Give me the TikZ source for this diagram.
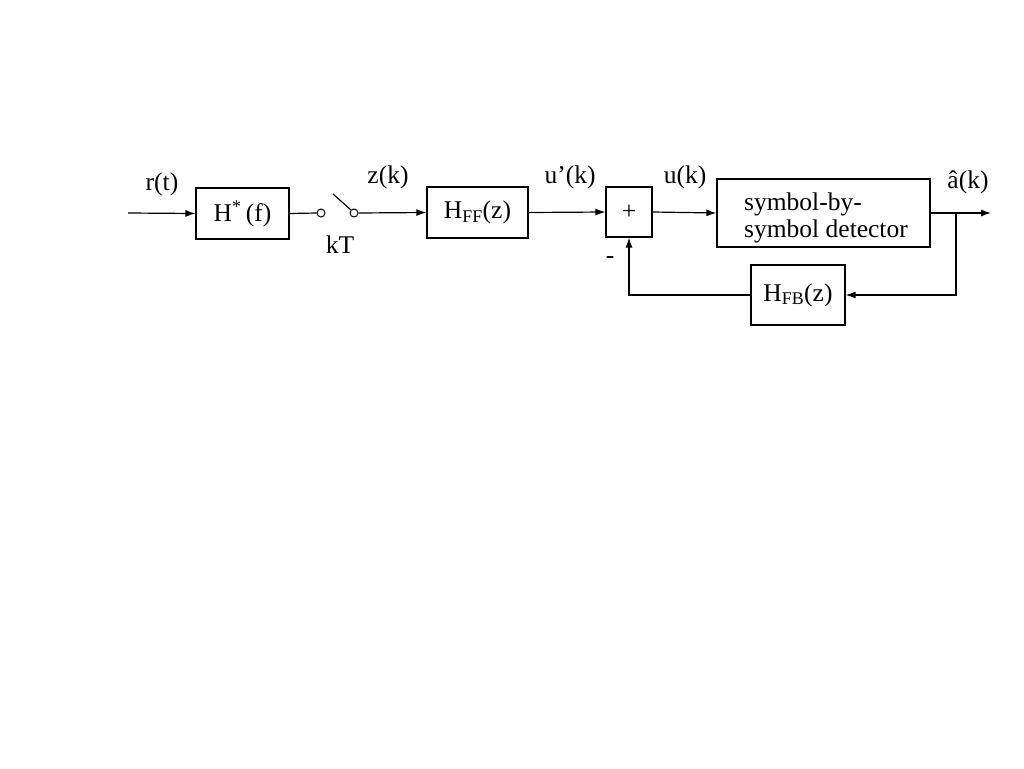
\documentclass[tikz,border=0pt]{standalone}
\usepackage{fontspec}
\setmainfont{Liberation Serif}
\usetikzlibrary{arrows.meta}
\begin{document}
\begin{tikzpicture}[x=1pt,y=-1pt,line width=1.2pt,
  >={Latex[length=10pt,width=7pt]},
  every node/.style={font=\fontsize{25.5}{27}\selectfont},
  blk/.style={draw,rectangle,inner sep=0pt},
  pin/.style={draw,circle,inner sep=0pt,minimum size=8pt,line width=1pt},
  lbl/.style={inner sep=0pt}]
\useasboundingbox (0,0) rectangle (1024,768);
% blocks
\node[blk,minimum width=93pt,minimum height=51pt] (h) at (242.5,213.5) {H\textsuperscript{*}\,(f)};
\node[pin] (c1) at (321,213) {};
\node[pin] (c2) at (354,213) {};
\coordinate (lv) at (333,194);
\node[blk,minimum width=101pt,minimum height=51pt] (hff) at (477.5,212.5) {H\textsubscript{FF}(z)};
\node[blk,minimum width=46pt,minimum height=50pt] (plus) at (629,212) {+};
\node[blk,minimum width=213pt,minimum height=68pt] (det) at (823.5,213) {};
\node[lbl,align=left] (dett) at (826,218) {symbol-by-\\symbol detector};
\node[blk,minimum width=94pt,minimum height=60pt] (hfb) at (798,295) {H\textsubscript{FB}(z)};
\coordinate (in) at (128,213);
\coordinate (out) at (991,213);
\coordinate (br) at (956,213);
% labels
\node[lbl] (lr) at (162,184) {r(t)};
\node[lbl] (lz) at (388,177) {z(k)};
\node[lbl] (lkt) at (340,245) {kT};
\node[lbl] (lup) at (570,177) {u’(k)};
\node[lbl] (lu) at (685,177) {u(k)};
\node[lbl] (la) at (968,182) {â(k)};
\node[lbl] (lm) at (610,260) {-};
% connectors
\draw[->] (in) -- (h.west);
\draw (h.east) -- (c1.west);
\draw (lv) -- (c2.north west);
\draw[->] (c2.east) -- (hff.west);
\draw[->] (hff.east) -- (plus.west);
\draw[->] (plus.east) -- (det.west);
\draw[->] (det.east) -- (out);
\draw[->] (br) |- (hfb.east);
\draw[->] (hfb.west) -| (plus.south);
\end{tikzpicture}
\end{document}
